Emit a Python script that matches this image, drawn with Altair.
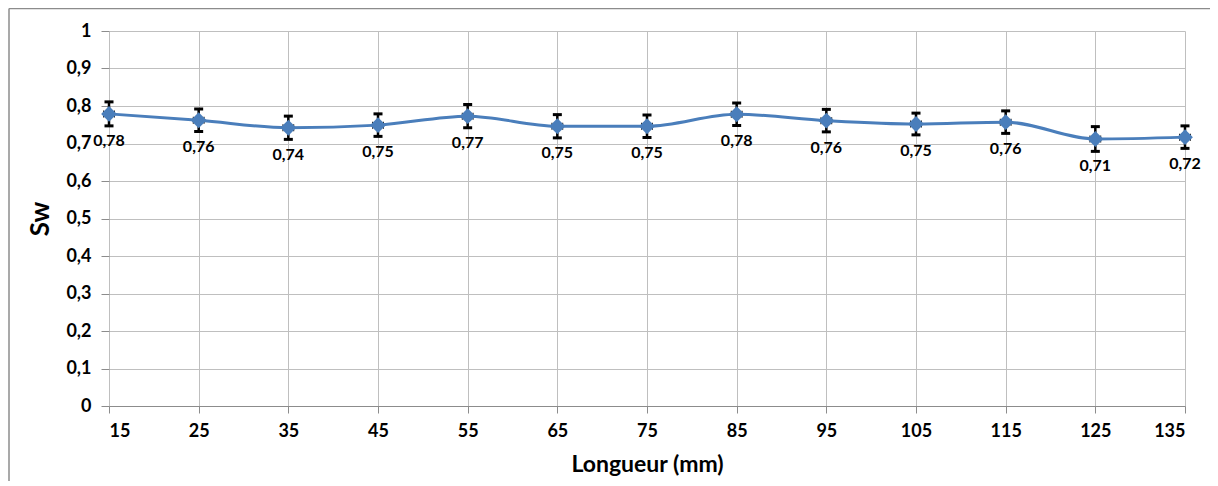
import altair as alt
import pandas as pd

longueur = [15, 25, 35, 45, 55, 65, 75, 85, 95, 105, 115, 125, 135]
sw = [0.779, 0.762, 0.742, 0.749, 0.773, 0.746, 0.746, 0.778, 0.761, 0.752, 0.757, 0.712, 0.717]
sw_err = [0.032, 0.030, 0.031, 0.030, 0.031, 0.031, 0.030, 0.030, 0.030, 0.029, 0.030, 0.033, 0.030]
x_err = [0.6] * 13
y_ticks = [0, 0.1, 0.2, 0.3, 0.4, 0.5, 0.6, 0.7, 0.8, 0.9, 1.0]

df = pd.DataFrame({
    "x": longueur,
    "sw": sw,
    "lo": [v - e for v, e in zip(sw, sw_err)],
    "hi": [v + e for v, e in zip(sw, sw_err)],
    "xlo": [v - e for v, e in zip(longueur, x_err)],
    "xhi": [v + e for v, e in zip(longueur, x_err)],
    "label": [f"{v:.2f}".replace(".", ",") for v in sw],
})

FONT = "Lato"
BLUE = "#4A7EBB"
GRID = "#BFBFBF"

xscale = alt.Scale(domain=[15, 135], nice=False, zero=False)
yscale = alt.Scale(domain=[0, 1], nice=False)

x_axis = alt.Axis(values=longueur, title="Longueur (mm)", grid=True, gridColor=GRID,
                  domainColor="#8C8C8C", tickColor="#8C8C8C", tickSize=7,
                  labelFont=FONT, labelFontSize=18, labelFontWeight="bold", labelColor="#000000",
                  labelPadding=9, titleFont=FONT, titleFontSize=23, titleFontWeight="bold",
                  titleColor="#000000", titlePadding=13)
y_axis = alt.Axis(values=y_ticks, title="Sw", grid=True, gridColor=GRID,
                  domain=False, tickColor="#8C8C8C", tickSize=8,
                  labelExpr="replace(format(datum.value, '.1~f'), '.', ',')",
                  labelFont=FONT, labelFontSize=18, labelFontWeight="bold", labelColor="#000000",
                  labelPadding=10, titleFont=FONT, titleFontSize=26, titleFontWeight="bold",
                  titleColor="#000000", titlePadding=12)


def xe(field):
    return alt.X(field, type="quantitative", scale=xscale, axis=x_axis)


def ye(field):
    return alt.Y(field, type="quantitative", scale=yscale, axis=y_axis)


base = alt.Chart(df)

line = base.mark_line(interpolate="monotone", color=BLUE, strokeWidth=3).encode(x=xe("x"), y=ye("sw"))
ebar = base.mark_rule(color="black", strokeWidth=2.5).encode(x=xe("x"), y=ye("lo"), y2="hi:Q")
cap_top = base.mark_tick(orient="horizontal", size=9, thickness=3, color="black", opacity=1).encode(
    x=xe("x"), y=ye("hi"))
cap_bot = base.mark_tick(orient="horizontal", size=9, thickness=3, color="black", opacity=1).encode(
    x=xe("x"), y=ye("lo"))
xbar = base.mark_rule(color="black", strokeWidth=1).encode(x=xe("xlo"), x2="xhi:Q", y=ye("sw"))
xcap_l = base.mark_tick(orient="vertical", size=7, thickness=1, color="black", opacity=1).encode(
    x=xe("xlo"), y=ye("sw"))
xcap_r = base.mark_tick(orient="vertical", size=7, thickness=1, color="black", opacity=1).encode(
    x=xe("xhi"), y=ye("sw"))
points = base.mark_point(shape="diamond", filled=True, size=250, color=BLUE, opacity=1).encode(
    x=xe("x"), y=ye("sw"))
labels = base.mark_text(dy=27, font=FONT, fontSize=16, fontWeight="bold", color="black").encode(
    x=xe("x"), y=ye("sw"), text="label:N")

frame_df = pd.DataFrame({"a": [0]})
frame_top = alt.Chart(frame_df).mark_rule(color="#8C8C8C", strokeWidth=1.5).encode(
    x=alt.value(-100), x2=alt.value(1200), y=alt.value(-22.5))
frame_left = alt.Chart(frame_df).mark_rule(color="#8C8C8C", strokeWidth=1.5).encode(
    x=alt.value(-100), y=alt.value(-22.5), y2=alt.value(500))

chart = alt.layer(line, ebar, cap_top, cap_bot, xbar, xcap_l, xcap_r, points, labels,
                  frame_top, frame_left).properties(
    width=1076, height=375,
    padding={"left": 101, "top": 23, "right": 25, "bottom": 75},
    autosize=alt.AutoSizeParams(type="none"),
    background="white",
).configure_view(strokeWidth=0)

chart.save("out.html", embed_options={"renderer": "svg", "actions": False})
